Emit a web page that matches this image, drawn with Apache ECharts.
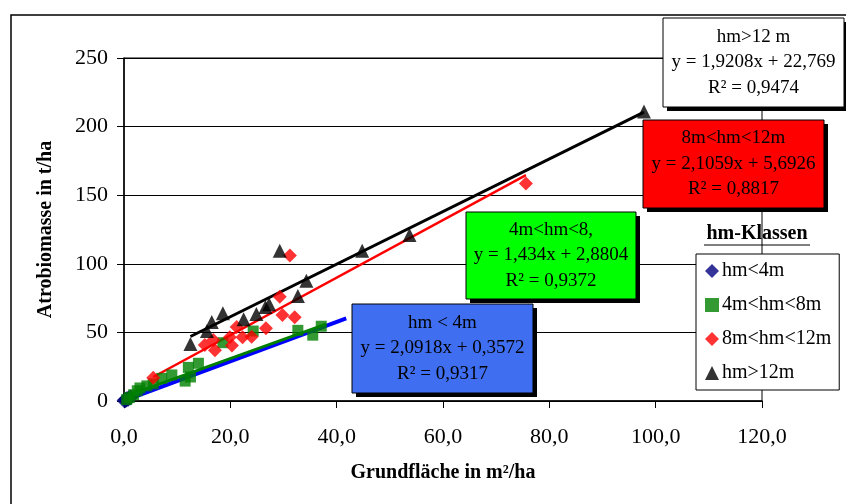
<!DOCTYPE html>
<html>
<head>
<meta charset="utf-8">
<script src="https://cdn.jsdelivr.net/npm/echarts@6/dist/echarts.min.js"></script>
<style>
  html, body { margin: 0; padding: 0; background: #fff; }
  #chart { width: 846px; height: 504px; }
</style>
</head>
<body>
<div id="chart"></div>
<script>
// --- data ---
const seriesNames = ['hm<4m', '4m<hm<8m', '8m<hm<12m', 'hm>12m']

const hmUnder4 = [[0.1, 0.3], [0.3, 0.8], [0.5, 1.2], [0.8, 1.6], [1.2, 2.8]]
const hm4to8 = [
  [0.5, 1.0], [1.0, 2.5], [1.8, 4.5], [2.5, 7.5], [3.0, 9.5], [4.3, 11.0],
  [5.5, 12.5], [7.1, 16.5], [9.0, 19.0], [11.5, 14.5], [12.1, 24.5], [12.5, 17.5],
  [14.0, 27.5], [18.6, 42.5], [24.3, 51.0], [32.7, 51.5], [35.5, 48.0], [37.1, 54.5],
]
const hm8to12 = [
  [5.5, 17.0], [15.2, 40.8], [16.8, 44.5], [17.1, 37.0], [19.9, 46.5], [20.3, 40.5],
  [21.2, 54.0], [22.3, 46.5], [24.0, 46.9], [26.7, 53.0], [29.3, 76.0], [29.8, 62.7],
  [32.1, 61.0], [31.2, 106.0], [75.6, 158.5],
]
const hmOver12 = [
  [12.5, 41.5], [15.6, 51.0], [16.5, 57.5], [18.6, 63.9], [22.5, 59.5], [24.9, 63.5],
  [26.6, 68.5], [27.3, 70.5], [29.3, 109.5], [32.7, 76.5], [34.3, 87.7], [44.8, 109.5],
  [53.7, 121.0], [97.8, 211.0],
]

// trend line end points
const trendUnder4 = [[1.7, 2.7], [41.8, 60.3]]
const trendUnder4Short = [[0.3, 0.0], [1.7, 2.8]]
const trend4to8 = [[1.0, 4.5], [38.0, 56.0]]
const trend8to12 = [[5.5, 17.5], [75.6, 164.7]]
const trendOver12 = [[12.5, 47.0], [97.8, 210.6]]

const yTicks = [0, 50, 100, 150, 200, 250]
const xTicks = [0, 20, 40, 60, 80, 100, 120]

const boxTexts = [
  'hm>12 m\ny = 1,9208x + 22,769\nR² = 0,9474',
  '8m<hm<12m\ny = 2,1059x + 5,6926\nR² = 0,8817',
  '4m<hm<8,\ny = 1,434x + 2,8804\nR² = 0,9372',
  'hm < 4m\ny = 2,0918x + 0,3572\nR² = 0,9317',
]

const FONT = 'Liberation Serif'

// annotation box helper (shadow + box + text)
const makeBox = (x, y, w, h, fill, text) => [
  { type: 'rect', z: 100, shape: { x: x + 4, y: y + 4, width: w, height: h }, style: { fill: '#000' } },
  { type: 'rect', z: 101, shape: { x, y, width: w, height: h }, style: { fill, stroke: '#000', lineWidth: 1 } },
  {
    type: 'text', z: 102, x: x + w / 2, y: y + h / 2,
    style: {
      text, fill: '#000', font: `19px "${FONT}"`, lineHeight: 25.5,
      align: 'center', verticalAlign: 'middle',
    },
  },
]

const chart = echarts.init(document.getElementById('chart'))

const scatter = (name, data, symbol, size, color) => ({
  name, type: 'scatter', data, symbol, symbolSize: size,
  itemStyle: { color }, z: 5,
})
const trend = (data, color, width) => ({
  type: 'line', data, symbol: 'none', silent: true, z: 4,
  lineStyle: { color, width, cap: 'butt' },
})

const option = {
  backgroundColor: '#fff',
  animation: false,
  textStyle: { fontFamily: FONT },
  grid: {
    left: 124, right: 84, top: 58, bottom: 103,
    show: true, borderColor: '#000', borderWidth: 1,
  },
  xAxis: {
    type: 'value', min: xTicks[0], max: xTicks[xTicks.length - 1], interval: 20,
    name: 'Grundfläche in m²/ha', nameLocation: 'middle', nameGap: 62,
    nameTextStyle: { fontFamily: FONT, fontSize: 20, fontWeight: 'bold', color: '#000' },
    axisLine: { lineStyle: { color: '#000', width: 1.5 } },
    axisTick: { show: true, length: 7, lineStyle: { color: '#000' } },
    axisLabel: {
      fontFamily: FONT, fontSize: 22, color: '#000', margin: 25,
      formatter: (v) => v.toFixed(1).replace('.', ','),
    },
    splitLine: { show: false },
  },
  yAxis: {
    type: 'value', min: yTicks[0], max: yTicks[yTicks.length - 1], interval: 50,
    name: 'Atrobiomasse in t/ha', nameLocation: 'middle', nameGap: 68, nameRotate: 90,
    nameTextStyle: { fontFamily: FONT, fontSize: 20, fontWeight: 'bold', color: '#000' },
    axisLine: { show: true, lineStyle: { color: '#000', width: 1.5 } },
    axisTick: { show: true, length: 7, lineStyle: { color: '#000' } },
    axisLabel: { fontFamily: FONT, fontSize: 22, color: '#000', margin: 16 },
    splitLine: { show: true, lineStyle: { color: '#000', width: 1 } },
  },
  legend: {
    orient: 'vertical', left: 696, top: 254,
    padding: [7, 8, 7, 9], itemGap: 14, itemWidth: 14, itemHeight: 14,
    backgroundColor: '#fff', borderColor: '#000', borderWidth: 1,
    textStyle: { fontFamily: FONT, fontSize: 20, color: '#000', padding: [0, 0, 0, -2] },
    data: [
      { name: seriesNames[0], icon: 'diamond' },
      { name: seriesNames[1], icon: 'rect' },
      { name: seriesNames[2], icon: 'diamond' },
      { name: seriesNames[3], icon: 'triangle' },
    ],
    z: 50,
  },
  series: [
    trend(trendUnder4, '#0000ff', 4),
    trend(trend4to8, '#008000', 3),
    trend(trend8to12, '#ff0000', 2.5),
    trend(trendOver12, '#000000', 3),
    scatter(seriesNames[0], hmUnder4, 'diamond', 16, '#000080'),
    scatter(seriesNames[1], hm4to8, 'rect', 11, '#008000'),
    scatter(seriesNames[2], hm8to12, 'diamond', 14, '#ff0000'),
    scatter(seriesNames[3], hmOver12, 'triangle', 14, '#000000'),
    trend(trendUnder4Short, '#000000', 4),
  ],
  graphic: [
    // outer chart border
    { type: 'rect', z: 1, shape: { x: 11, y: 15, width: 860, height: 520 }, style: { fill: 'none', stroke: '#000', lineWidth: 1.5 } },
    ...makeBox(663, 18, 181, 89, '#ffffff', boxTexts[0]),
    ...makeBox(643, 120, 181, 88, '#ff0000', boxTexts[1]),
    ...makeBox(466, 212, 170, 87, '#00ff00', boxTexts[2]),
    ...makeBox(352, 304, 181, 89, '#3f6ff0', boxTexts[3]),
    // legend title
    {
      type: 'text', z: 60, x: 757, y: 234,
      style: { text: 'hm-Klassen', fill: '#000', font: `bold 20px "${FONT}"`, align: 'center', verticalAlign: 'middle' },
    },
    { type: 'line', z: 60, shape: { x1: 704, y1: 245, x2: 810, y2: 245 }, style: { stroke: '#000', lineWidth: 1 } },
  ],
}

chart.setOption(option)
window.addEventListener('resize', () => chart.resize())
</script>
</body>
</html>
